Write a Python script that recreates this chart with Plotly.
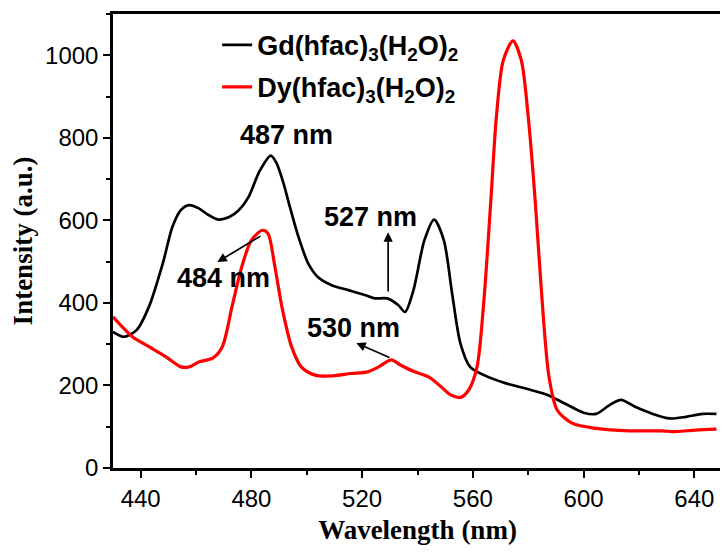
import plotly.graph_objects as go

# Gd(hfac)3(H2O)2 emission spectrum
gd_wavelength = [430, 434, 438.5, 443, 448, 451.5, 454.5, 457.5, 461, 464.5, 468, 472, 475.5,
                 479, 483, 487, 489, 491.5, 494, 497, 500.5, 504, 509, 515, 521, 524.5, 529, 533,
                 535.5, 538.5, 542.5, 546, 549.5, 552.5, 555.5, 559, 564, 572, 581, 587, 593,
                 600, 604.5, 609.5, 613.5, 619, 625, 631, 637, 643, 648]
gd_intensity = [330, 318, 334, 391, 496, 585, 625, 637, 629, 613, 602, 608, 625,
                657, 720, 757, 740, 692, 630, 560, 496, 463, 443, 431, 419, 411, 411, 395,
                378, 430, 552, 602, 552, 423, 302, 245, 225, 205, 189, 177, 157,
                134, 131, 153, 165, 147, 131, 120, 124, 131, 131]

# Dy(hfac)3(H2O)2 emission spectrum
dy_wavelength = [430, 437, 443, 449, 454.5, 457.5, 461, 466, 469.5, 473, 476.5, 480, 484, 486,
                 488.5, 491, 494.5, 498, 503, 509, 516, 522, 526, 530.5, 534, 539, 544, 548.5,
                 552, 555.5, 558.5, 561.5, 564, 566.5, 568.5, 571, 574.5, 577.5, 580, 582.5,
                 585, 587.5, 590.5, 596, 604.5, 616.5, 628.5, 632, 640.5, 648]
dy_intensity = [366, 318, 294, 270, 245, 245, 257, 266, 294, 391, 487, 552, 576, 568,
                487, 391, 294, 245, 225, 223, 229, 233, 245, 262, 249, 233, 221, 197,
                177, 171, 189, 245, 407, 649, 851, 988, 1035, 988, 851, 649,
                407, 221, 140, 108, 96, 90, 90, 88, 92, 94]

series_names = ["<b>Gd(hfac)<sub>3</sub>(H<sub>2</sub>O)<sub>2</sub></b>",
                "<b>Dy(hfac)<sub>3</sub>(H<sub>2</sub>O)<sub>2</sub></b>"]

x_ticks = [440, 480, 520, 560, 600, 640]
y_ticks = [0, 200, 400, 600, 800, 1000]

# annotation labels: (text, x, y)
peak_labels = [("487 nm", 492.5, 806), ("484 nm", 470.0, 460),
               ("527 nm", 523.0, 608), ("530 nm", 517.0, 339)]
# arrows: (head_x, head_y, tail_x, tail_y)
arrows = [(467.7, 499, 483.8, 564), (529.4, 571, 529.4, 424), (517.9, 303, 530.4, 266)]

SANS = "Liberation Sans, Arial, sans-serif"
SERIF = "Liberation Serif, Times New Roman, serif"

fig = go.Figure()
fig.add_trace(go.Scatter(x=gd_wavelength, y=gd_intensity, mode="lines", name=series_names[0],
                         line=dict(color="black", width=2.7, shape="spline", smoothing=0.8),
                         legendgroup="a"))
fig.add_trace(go.Scatter(x=dy_wavelength, y=dy_intensity, mode="lines", name=series_names[1],
                         line=dict(color="#ff0000", width=3.2, shape="spline", smoothing=0.8),
                         legendgroup="b"))

for txt, x, y in peak_labels:
    fig.add_annotation(x=x, y=y, text="<b>%s</b>" % txt, showarrow=False,
                       font=dict(family=SANS, size=27, color="black"))
for hx, hy, tx, ty in arrows:
    fig.add_annotation(x=hx, y=hy, ax=tx, ay=ty, axref="x", ayref="y", xref="x", yref="y",
                       text="", showarrow=True, arrowhead=2, arrowsize=1.1, arrowwidth=1.7,
                       arrowcolor="black")

axis_common = dict(showline=True, linecolor="black", linewidth=2.5, mirror=True,
                   ticks="outside", tickwidth=2, ticklen=7, tickcolor="black",
                   showgrid=False, zeroline=False,
                   tickfont=dict(family=SANS, size=24, color="black"))

fig.update_xaxes(range=[430, 650], tickvals=x_ticks,
                 minor=dict(dtick=20, tick0=440, ticks="outside", ticklen=4, tickwidth=2, tickcolor="black"),
                 title=dict(text="<b>Wavelength (nm)</b>", font=dict(family=SERIF, size=27, color="black"),
                            standoff=10),
                 **axis_common)
fig.update_yaxes(range=[0, 1100], tickvals=y_ticks,
                 minor=dict(dtick=100, tick0=0, ticks="outside", ticklen=4, tickwidth=2, tickcolor="black"),
                 title=dict(text="<b>Intensity (a.u.)</b>", font=dict(family=SERIF, size=27, color="black"),
                            standoff=5),
                 **axis_common)

# page body has an 8px default margin, so the figure is sized to fit within 728x554
fig.update_layout(
    width=720, height=546,
    margin=dict(l=105, r=3, t=5, b=86),
    paper_bgcolor="white", plot_bgcolor="white",
    showlegend=True,
    legend=dict(x=0.171, y=0.985, xanchor="left", yanchor="top", bgcolor="rgba(0,0,0,0)",
                font=dict(family=SANS, size=27, color="black"), traceorder="grouped",
                tracegroupgap=4),
)

fig.write_html("out.html")
